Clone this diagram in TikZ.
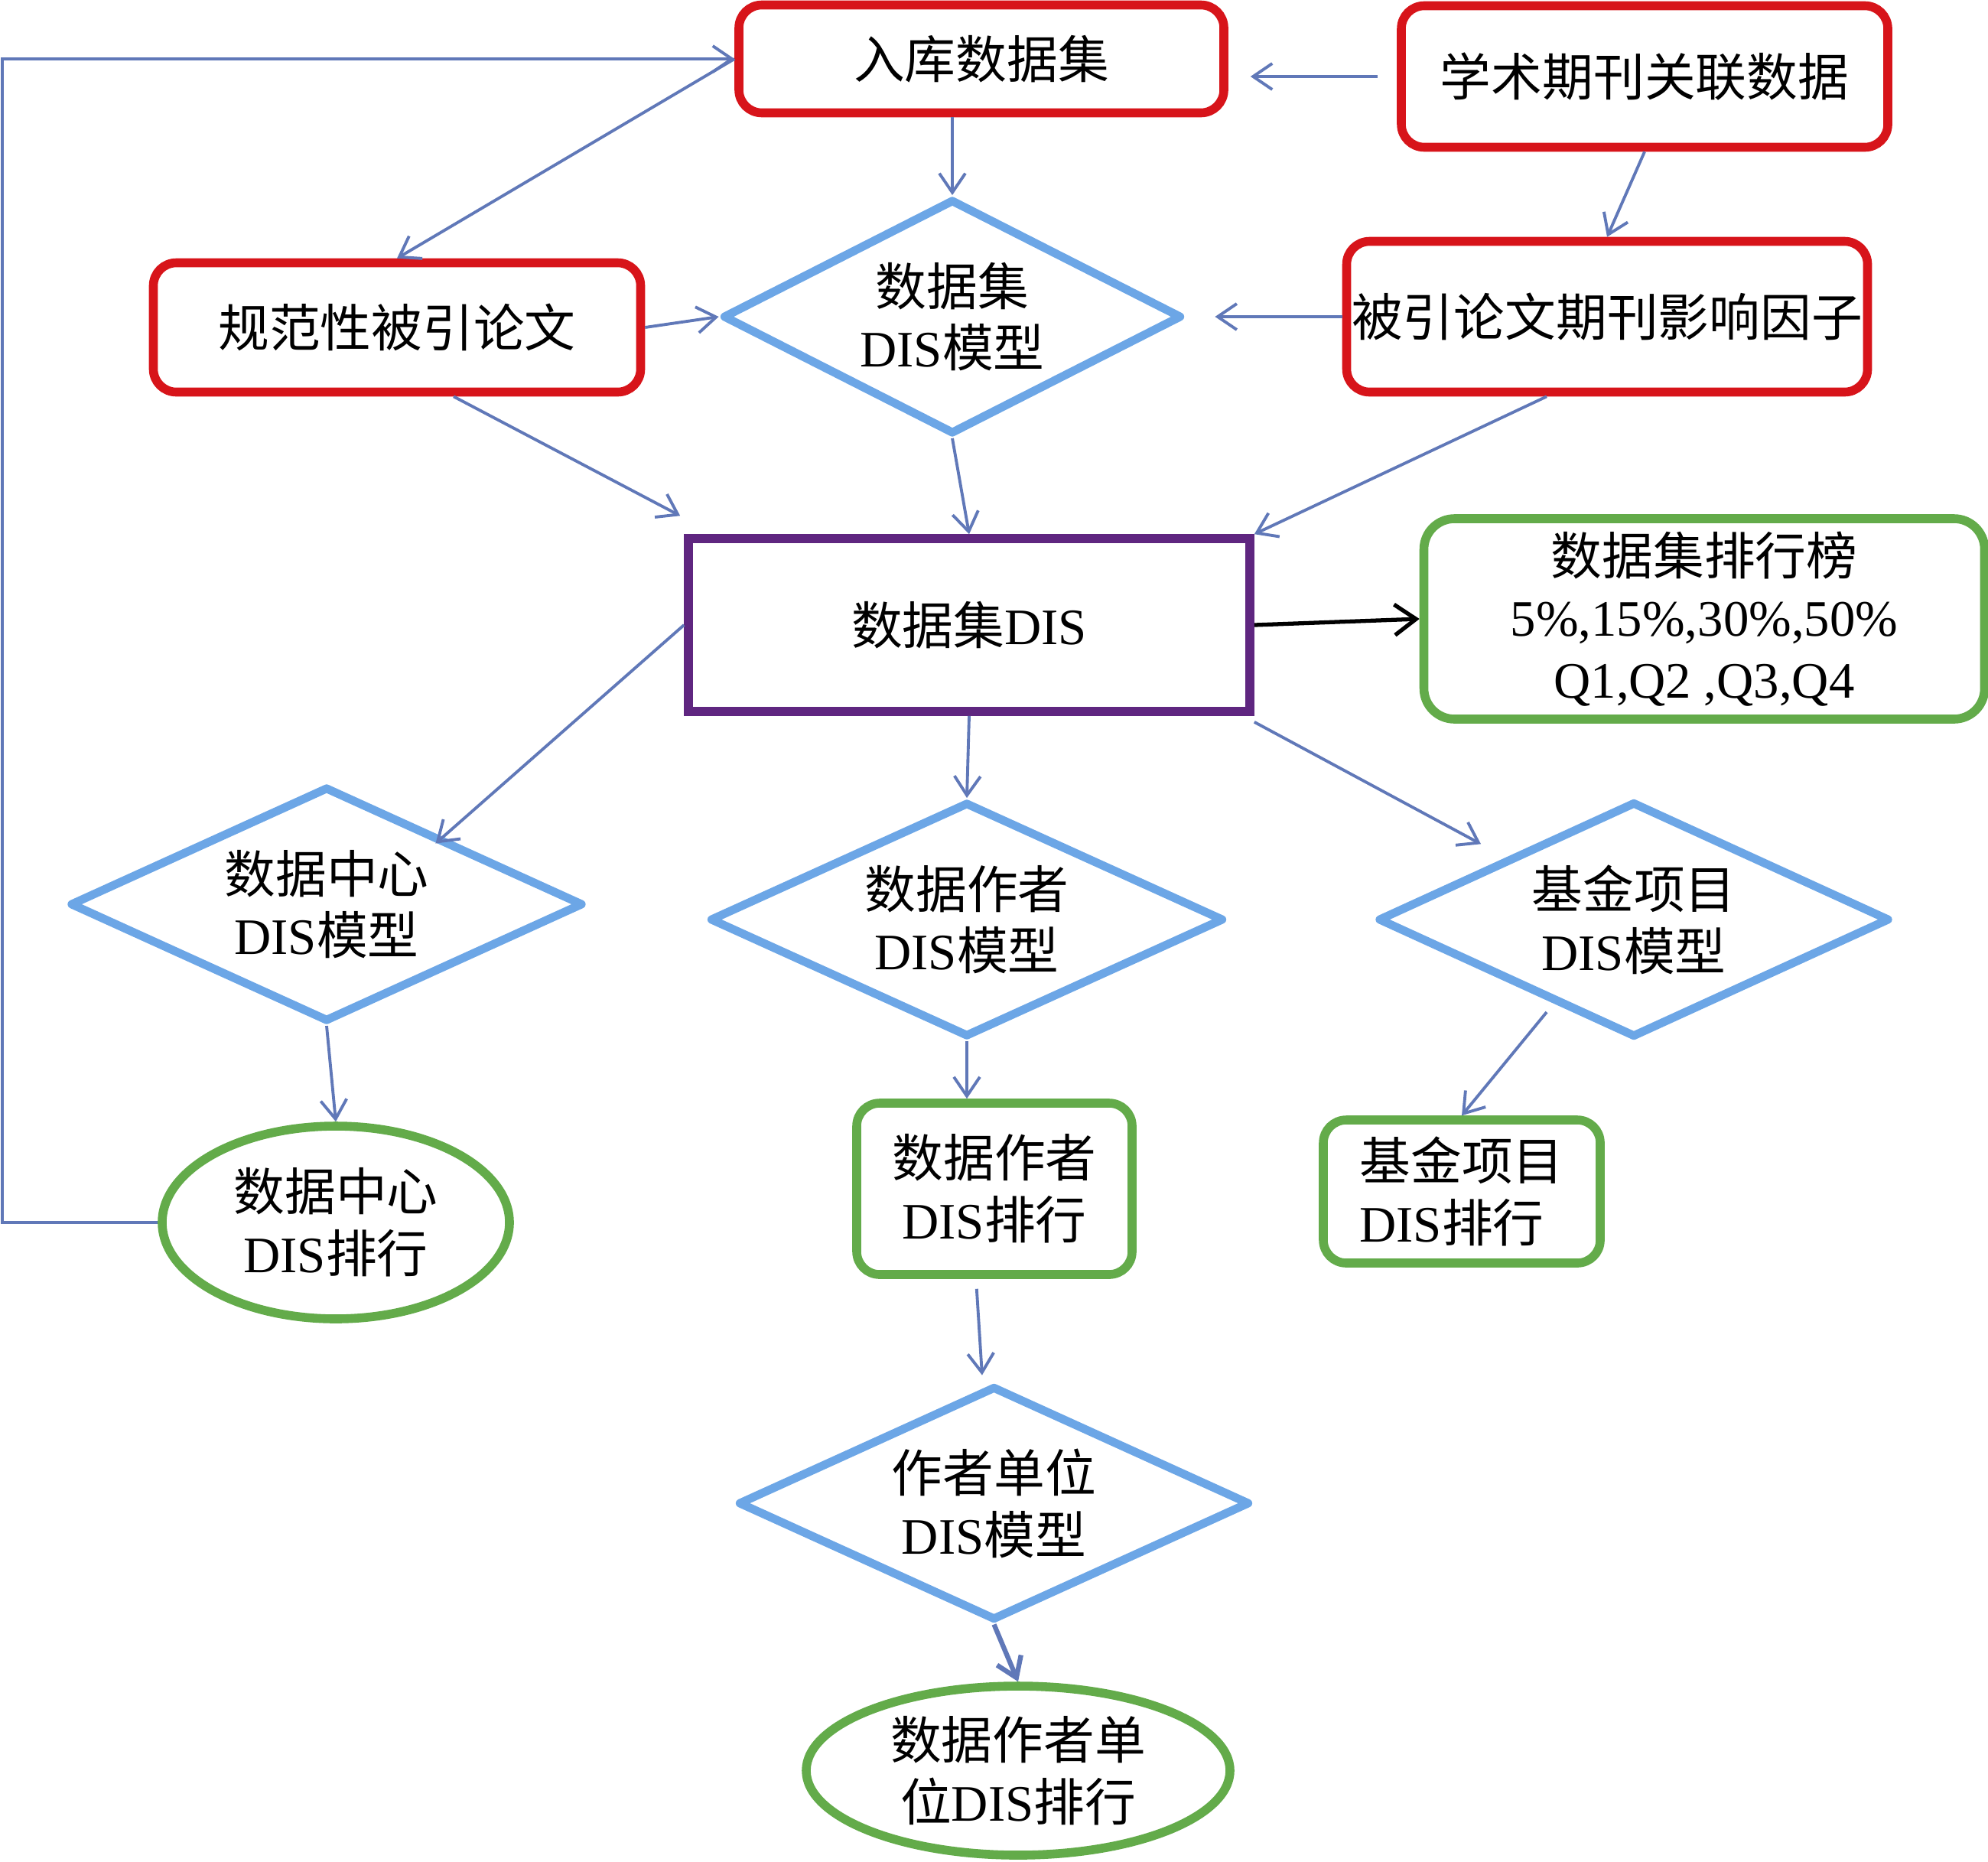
\documentclass[tikz,border=0pt]{standalone}
\usepackage{fontspec}
\setmainfont{Liberation Serif}
\newfontfamily\cjk{Noto Sans CJK SC}
\newcommand{\zhtext}[1]{{\cjk #1}}
\usepackage{tikz}
\usetikzlibrary{positioning,shapes.geometric,arrows.meta}
\definecolor{boxred}{RGB}{215,20,26}
\definecolor{diablue}{RGB}{108,166,230}
\definecolor{rankgreen}{RGB}{99,171,74}
\definecolor{dispurple}{RGB}{95,38,128}
\definecolor{linkblue}{RGB}{96,120,184}

\begin{document}
\begin{tikzpicture}[font=\fontsize{19}{23}\selectfont,
  redbox/.style={draw=boxred, line width=3.3pt, rounded corners=0.3cm, align=center},
  dia/.style={diamond, aspect=2, draw=diablue, line width=3.1pt, line join=round, align=center, inner sep=0pt},
  greenbox/.style={draw=rankgreen, line width=3.3pt, rounded corners=0.3cm, align=center},
  greenell/.style={ellipse, draw=rankgreen, line width=3.3pt, align=center, inner sep=0pt},
  arr/.style={draw=linkblue, line width=1.1pt, -{Straight Barb[length=2.5mm,width=3.4mm]}}]
\useasboundingbox (0,0) rectangle (25.99,-24.33);
\node[redbox, minimum width=6.34cm, minimum height=1.41cm] (ruku) at (12.83,-0.77) {\zhtext{入库数据集}};
\node[redbox, minimum width=6.36cm, minimum height=1.85cm] (xueshu) at (21.50,-1.00) {\zhtext{学术期刊关联数据}};
\node[redbox, minimum width=6.37cm, minimum height=1.69cm] (guifan) at (5.19,-4.28) {\zhtext{规范性被引论文}};
\node[dia, minimum width=6.00cm, minimum height=3.07cm] (dsmodel) at (12.45,-4.14) {\zhtext{数据集}\\DIS\zhtext{模型}};
\node[redbox, minimum width=6.81cm, minimum height=1.97cm, inner sep=0pt] (beiyin) at (21.01,-4.14) {\zhtext{被引论文期刊影响因子}};
\node[draw=dispurple, line width=3.3pt, minimum width=7.34cm, minimum height=2.26cm] (dsdis) at (12.67,-8.17) {\zhtext{数据集}DIS};
\node[greenbox, rounded corners=0.4cm, minimum width=7.33cm, minimum height=2.62cm, inner sep=0pt] (rank) at (22.28,-8.09) {\zhtext{数据集排行榜}\\5\%,15\%,30\%,50\%\\Q1,Q2 ,Q3,Q4};
\node[dia, minimum width=6.71cm, minimum height=3.07cm] (dcmodel) at (4.27,-11.82) {\zhtext{数据中心}\\DIS\zhtext{模型}};
\node[dia, minimum width=6.72cm, minimum height=3.07cm] (aumodel) at (12.64,-12.02) {\zhtext{数据作者}\\DIS\zhtext{模型}};
\node[dia, minimum width=6.69cm, minimum height=3.08cm] (fdmodel) at (21.36,-12.02) {\zhtext{基金项目}\\DIS\zhtext{模型}};
\node[greenell, minimum width=4.54cm, minimum height=2.52cm] (dcrank) at (4.39,-15.98) {\zhtext{数据中心}\\DIS\zhtext{排行}};
\node[greenbox, minimum width=3.60cm, minimum height=2.24cm] (aurank) at (13.00,-15.54) {\zhtext{数据作者}\\DIS\zhtext{排行}};
\node[greenbox, align=left, minimum width=3.62cm, minimum height=1.87cm] (fdrank) at (19.11,-15.575) {\zhtext{基金项目}\\DIS\zhtext{排行}};
\node[dia, minimum width=6.69cm, minimum height=3.06cm] (unitmodel) at (12.995,-19.65) {\zhtext{作者单位}\\DIS\zhtext{模型}};
\node[greenell, minimum width=5.54cm, minimum height=2.21cm] (unitrank) at (13.31,-23.145) {\zhtext{数据作者单}\\\zhtext{位}DIS\zhtext{排行}};
\coordinate (lc) at (0.03,-0.77);
\draw[arr] (dcrank.west) -| (lc) -- (ruku.west);
\draw[arr] (ruku.west) -- (guifan.north);
\draw[arr] (ruku.south -| dsmodel.north) -- (dsmodel.north);
\draw[arr, shorten <=0.25cm, shorten >=0.29cm] (xueshu.west) -- (xueshu.west -| ruku.east);
\draw[arr] (xueshu.south) -- (beiyin.north);
\draw[arr, shorten >=0.38cm] (beiyin.west) -- (dsmodel.east);
\draw[arr] (guifan.east) -- (dsmodel.west);
\draw[arr] ([xshift=0.74cm]guifan.south) -- ([shift={(-0.05cm,0.24cm)}]dsdis.north west);
\draw[arr] (dsmodel.south) -- (dsdis.north);
\draw[arr] ([xshift=-0.79cm]beiyin.south) -- (dsdis.north east);
\draw[black, line width=1.5pt, -{Straight Barb[length=2.8mm,width=4mm]}] (dsdis.east) -- (rank.west);
\draw[arr] (dsdis.west) -- ([xshift=-0.28cm]dcmodel.north east);
\draw[arr] (dsdis.south) -- (aumodel.north);
\draw[arr] ([yshift=-0.08cm]dsdis.south east) -- ([shift={(-0.30cm,0.19cm)}]fdmodel.north west);
\draw[arr] (dcmodel.south) -- (dcrank.north);
\draw[arr] (aumodel.south) -- (aumodel.south |- aurank.north);
\draw[arr] ([shift={(-1.14cm,-1.21cm)}]fdmodel.center) -- (fdrank.north);
\draw[arr, shorten <=0.13cm, shorten >=0.09cm] ([xshift=-0.24cm]aurank.south) -- ([xshift=-0.15cm]unitmodel.north);
\draw[arr, line width=1.8pt] (unitmodel.south) -- (unitrank.north);
\end{tikzpicture}
\end{document}
